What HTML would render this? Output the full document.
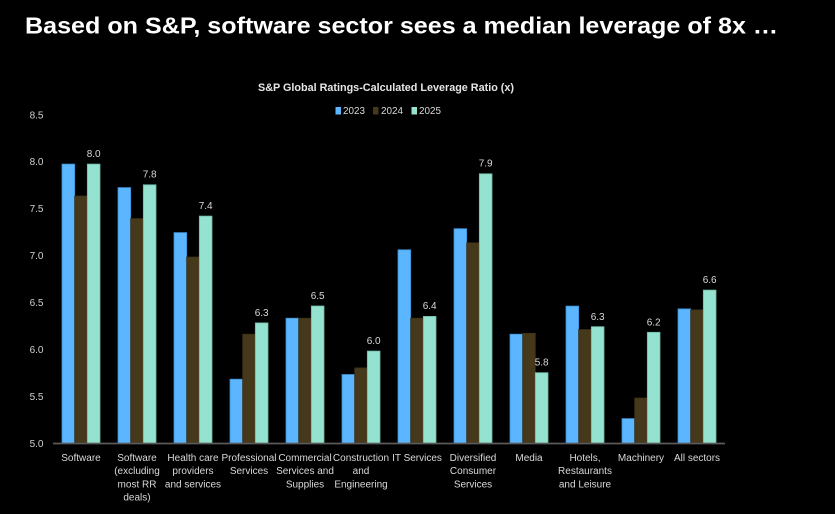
<!DOCTYPE html>
<html>
<head>
<meta charset="utf-8">
<style>
  html, body { margin:0; padding:0; background:#000; }
  body { width:835px; height:514px; overflow:hidden; }
  svg { display:block; }
  text { font-family: "Liberation Sans Narrow", "Liberation Sans", sans-serif; }
</style>
</head>
<body>
<svg width="835" height="514" viewBox="0 0 835 514" xmlns="http://www.w3.org/2000/svg">
  <rect x="0" y="0" width="835" height="514" fill="#000"/>
  <text x="25" y="33.5" font-size="23" font-weight="bold" fill="#fff" textLength="753" lengthAdjust="spacingAndGlyphs" style="font-family:'Liberation Sans',sans-serif">Based on S&amp;P, software sector sees a median leverage of 8x …</text>

  <text x="258" y="91" font-size="11" font-weight="bold" fill="#e6e6e6" textLength="256" lengthAdjust="spacingAndGlyphs">S&amp;P Global Ratings-Calculated Leverage Ratio (x)</text>

  <!-- legend -->
  <rect x="335.5" y="107" width="5.5" height="7.5" fill="#5BB5FF"/>
  <text x="343" y="114" font-size="10" fill="#d9d9d9" textLength="22" lengthAdjust="spacingAndGlyphs">2023</text>
  <rect x="373" y="107" width="5.5" height="7.5" fill="#46391B"/>
  <text x="381" y="114" font-size="10" fill="#d9d9d9" textLength="22" lengthAdjust="spacingAndGlyphs">2024</text>
  <rect x="411.5" y="107" width="5.5" height="7.5" fill="#96E2D0"/>
  <text x="419" y="114" font-size="10" fill="#d9d9d9" textLength="22" lengthAdjust="spacingAndGlyphs">2025</text>

  <!-- y tick labels -->
  <g font-size="10" fill="#d0d0d0" text-anchor="end">
    <text x="43.5" y="447">5.0</text>
    <text x="43.5" y="400">5.5</text>
    <text x="43.5" y="353">6.0</text>
    <text x="43.5" y="306">6.5</text>
    <text x="43.5" y="259">7.0</text>
    <text x="43.5" y="212">7.5</text>
    <text x="43.5" y="165">8.0</text>
    <text x="43.5" y="118.5">8.5</text>
  </g>

  <g id="bars" stroke-width="0.8">
  </g>

  <!-- axis -->
  <line x1="53" y1="443.5" x2="725" y2="443.5" stroke="#5a5a5a" stroke-width="1.5"/>

  <g id="labels" font-size="10" fill="#d9d9d9" text-anchor="middle"></g>
  <g id="vals" font-size="10" fill="#d9d9d9" text-anchor="middle"></g>

  <!-- static bars generated inline -->
  <g stroke-width="0.8">
    <!-- each group: center c, bars at c-19, c-6.33, c+6.33 width 12.67 -->
    <!-- Software c=81 -->
    <rect x="62" y="164.1" width="12.67" height="278.9" fill="#5BB5FF" stroke="#3f8fd0"/>
    <rect x="74.67" y="196" width="12.67" height="247" fill="#46391B" stroke="#3a2f15"/>
    <rect x="87.33" y="164.1" width="12.67" height="278.9" fill="#96E2D0" stroke="#6fb8a6"/>
    <text x="93.67" y="157" font-size="10" fill="#d9d9d9" text-anchor="middle">8.0</text>
    <!-- SW ex c=137 -->
    <rect x="118" y="187.6" width="12.67" height="255.4" fill="#5BB5FF" stroke="#3f8fd0"/>
    <rect x="130.67" y="218.6" width="12.67" height="224.4" fill="#46391B" stroke="#3a2f15"/>
    <rect x="143.33" y="184.8" width="12.67" height="258.2" fill="#96E2D0" stroke="#6fb8a6"/>
    <text x="149.67" y="177.5" font-size="10" fill="#d9d9d9" text-anchor="middle">7.8</text>
    <!-- Health c=193 -->
    <rect x="174" y="232.6" width="12.67" height="210.4" fill="#5BB5FF" stroke="#3f8fd0"/>
    <rect x="186.67" y="257" width="12.67" height="186" fill="#46391B" stroke="#3a2f15"/>
    <rect x="199.33" y="216.1" width="12.67" height="226.9" fill="#96E2D0" stroke="#6fb8a6"/>
    <text x="205.67" y="209" font-size="10" fill="#d9d9d9" text-anchor="middle">7.4</text>
    <!-- Professional c=249 -->
    <rect x="230" y="379.2" width="12.67" height="63.8" fill="#5BB5FF" stroke="#3f8fd0"/>
    <rect x="242.67" y="334.2" width="12.67" height="108.8" fill="#46391B" stroke="#3a2f15"/>
    <rect x="255.33" y="322.9" width="12.67" height="120.1" fill="#96E2D0" stroke="#6fb8a6"/>
    <text x="261.67" y="316" font-size="10" fill="#d9d9d9" text-anchor="middle">6.3</text>
    <!-- Commercial c=305 -->
    <rect x="286" y="318.2" width="12.67" height="124.8" fill="#5BB5FF" stroke="#3f8fd0"/>
    <rect x="298.67" y="318.2" width="12.67" height="124.8" fill="#46391B" stroke="#3a2f15"/>
    <rect x="311.33" y="306" width="12.67" height="137" fill="#96E2D0" stroke="#6fb8a6"/>
    <text x="317.67" y="299" font-size="10" fill="#d9d9d9" text-anchor="middle">6.5</text>
    <!-- Construction c=361 -->
    <rect x="342" y="374.5" width="12.67" height="68.5" fill="#5BB5FF" stroke="#3f8fd0"/>
    <rect x="354.67" y="367.9" width="12.67" height="75.1" fill="#46391B" stroke="#3a2f15"/>
    <rect x="367.33" y="351.1" width="12.67" height="91.9" fill="#96E2D0" stroke="#6fb8a6"/>
    <text x="373.67" y="344" font-size="10" fill="#d9d9d9" text-anchor="middle">6.0</text>
    <!-- IT c=417 -->
    <rect x="398" y="249.8" width="12.67" height="193.2" fill="#5BB5FF" stroke="#3f8fd0"/>
    <rect x="410.67" y="318.2" width="12.67" height="124.8" fill="#46391B" stroke="#3a2f15"/>
    <rect x="423.33" y="316.4" width="12.67" height="126.6" fill="#96E2D0" stroke="#6fb8a6"/>
    <text x="429.67" y="309" font-size="10" fill="#d9d9d9" text-anchor="middle">6.4</text>
    <!-- Diversified c=473 -->
    <rect x="454" y="228.7" width="12.67" height="214.3" fill="#5BB5FF" stroke="#3f8fd0"/>
    <rect x="466.67" y="242.8" width="12.67" height="200.2" fill="#46391B" stroke="#3a2f15"/>
    <rect x="479.33" y="173.8" width="12.67" height="269.2" fill="#96E2D0" stroke="#6fb8a6"/>
    <text x="485.67" y="166.5" font-size="10" fill="#d9d9d9" text-anchor="middle">7.9</text>
    <!-- Media c=529 -->
    <rect x="510" y="334.2" width="12.67" height="108.8" fill="#5BB5FF" stroke="#3f8fd0"/>
    <rect x="522.67" y="333.3" width="12.67" height="109.7" fill="#46391B" stroke="#3a2f15"/>
    <rect x="535.33" y="372.7" width="12.67" height="70.3" fill="#96E2D0" stroke="#6fb8a6"/>
    <text x="541.67" y="365.5" font-size="10" fill="#d9d9d9" text-anchor="middle">5.8</text>
    <!-- Hotels c=585 -->
    <rect x="566" y="306.1" width="12.67" height="136.9" fill="#5BB5FF" stroke="#3f8fd0"/>
    <rect x="578.67" y="329.5" width="12.67" height="113.5" fill="#46391B" stroke="#3a2f15"/>
    <rect x="591.33" y="326.7" width="12.67" height="116.3" fill="#96E2D0" stroke="#6fb8a6"/>
    <text x="597.67" y="320" font-size="10" fill="#d9d9d9" text-anchor="middle">6.3</text>
    <!-- Machinery c=641 -->
    <rect x="622" y="418.6" width="12.67" height="24.4" fill="#5BB5FF" stroke="#3f8fd0"/>
    <rect x="634.67" y="398" width="12.67" height="45" fill="#46391B" stroke="#3a2f15"/>
    <rect x="647.33" y="332.3" width="12.67" height="110.7" fill="#96E2D0" stroke="#6fb8a6"/>
    <text x="653.67" y="325.5" font-size="10" fill="#d9d9d9" text-anchor="middle">6.2</text>
    <!-- All sectors c=697 -->
    <rect x="678" y="308.9" width="12.67" height="134.1" fill="#5BB5FF" stroke="#3f8fd0"/>
    <rect x="690.67" y="309.8" width="12.67" height="133.2" fill="#46391B" stroke="#3a2f15"/>
    <rect x="703.33" y="290.1" width="12.67" height="152.9" fill="#96E2D0" stroke="#6fb8a6"/>
    <text x="709.67" y="283" font-size="10" fill="#d9d9d9" text-anchor="middle">6.6</text>
  </g>

  <line x1="53" y1="443.5" x2="725" y2="443.5" stroke="#5a5a5a" stroke-width="1.5"/>

  <!-- category labels -->
  <g font-size="10" fill="#d9d9d9" text-anchor="middle">
    <text x="81" y="461">Software</text>
    <text x="137" y="461">Software</text>
    <text x="137" y="474">(excluding</text>
    <text x="137" y="487.5">most RR</text>
    <text x="137" y="500.5">deals)</text>
    <text x="193" y="461">Health care</text>
    <text x="193" y="474">providers</text>
    <text x="193" y="487.5">and services</text>
    <text x="249" y="461">Professional</text>
    <text x="249" y="474">Services</text>
    <text x="305" y="461">Commercial</text>
    <text x="305" y="474">Services and</text>
    <text x="305" y="487.5">Supplies</text>
    <text x="361" y="461">Construction</text>
    <text x="361" y="474">and</text>
    <text x="361" y="487.5">Engineering</text>
    <text x="417" y="461">IT Services</text>
    <text x="473" y="461">Diversified</text>
    <text x="473" y="474">Consumer</text>
    <text x="473" y="487.5">Services</text>
    <text x="529" y="461">Media</text>
    <text x="585" y="461">Hotels,</text>
    <text x="585" y="474">Restaurants</text>
    <text x="585" y="487.5">and Leisure</text>
    <text x="641" y="461">Machinery</text>
    <text x="697" y="461">All sectors</text>
  </g>
</svg>
</body>
</html>
